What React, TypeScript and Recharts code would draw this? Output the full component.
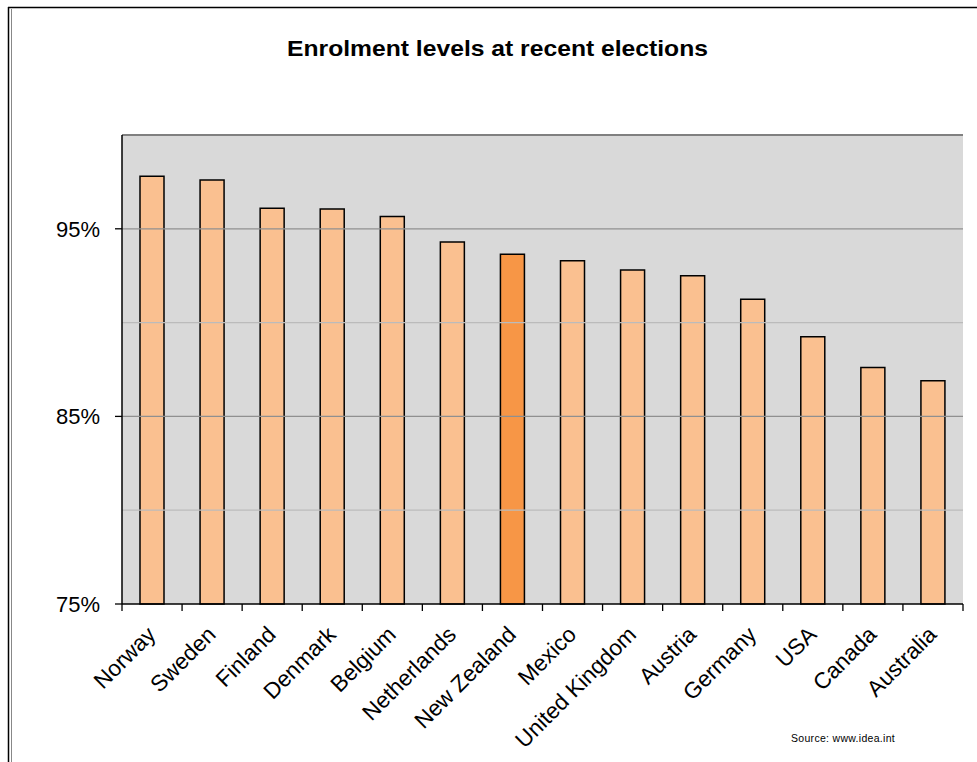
import React from "react"
import { BarChart, Bar, XAxis, YAxis, CartesianGrid, ReferenceLine, Cell } from "recharts"

const countries = [
  "Norway", "Sweden", "Finland", "Denmark", "Belgium", "Netherlands", "New Zealand",
  "Mexico", "United Kingdom", "Austria", "Germany", "USA", "Canada", "Australia",
]
const enrolment = [97.8, 97.6, 96.1, 96.05, 95.65, 94.3, 93.65, 93.3, 92.8, 92.5, 91.25, 89.25, 87.6, 86.9]
const highlighted = ["New Zealand"]

const yTicks = [75, 80, 85, 90, 95, 100]
const yLabelled = [75, 85, 95]
const majorLines = [85, 95]
const minorLines = [80, 90]

const W = 977
const H = 762
const LEFT = 122
const RIGHT = 14
const FONT = "'Liberation Sans', Arial, sans-serif"

const data = countries.map((name, i) => ({ name, value: enrolment[i] }))

const halfBand = (W - LEFT - RIGHT) / countries.length / 2

function YTick(props: any) {
  const { x, y, payload } = props
  if (!yLabelled.includes(payload.value)) return null
  return (
    <g>
      <line x1={LEFT - 7} x2={LEFT} y1={y} y2={y} stroke="#000" strokeWidth={1.3} />
      <text x={x - 14} y={y + 8} textAnchor="end" fontSize={22} fontFamily={FONT} fill="#000">
        {payload.value}%
      </text>
    </g>
  )
}

function XTick(props: any) {
  const { x, y, payload, index } = props
  const last = index === countries.length - 1
  return (
    <g>
      <line x1={x - halfBand} x2={x - halfBand} y1={y} y2={y + 7} stroke="#000" strokeWidth={1.3} />
      {last && <line x1={x + halfBand} x2={x + halfBand} y1={y} y2={y + 7} stroke="#000" strokeWidth={1.3} />}
      <text
        transform={`translate(${x + 5},${y + 32}) rotate(-45)`}
        textAnchor="end"
        fontSize={22.5}
        fontFamily={FONT}
        fill="#000"
      >
        {payload.value}
      </text>
    </g>
  )
}

export default function App() {
  return (
    <div style={{ position: "absolute", left: 0, top: 0, width: W, height: H, background: "#fff" }}>
      <BarChart width={W} height={H} data={data} margin={{ top: 135, right: RIGHT, left: 0, bottom: 0 }}>
        <CartesianGrid horizontal={false} vertical={false} fill="#D9D9D9" />
        {minorLines.map((v) => (
          <ReferenceLine key={v} y={v} stroke="#BBBBBB" strokeWidth={1.3} />
        ))}
        {majorLines.map((v) => (
          <ReferenceLine key={v} y={v} stroke="#909090" strokeWidth={1.3} />
        ))}
        <ReferenceLine y={100} stroke="#808080" strokeWidth={2} />
        <XAxis
          dataKey="name"
          interval={0}
          height={158}
          tickLine={false}
          tickSize={0}
          tickMargin={0}
          axisLine={{ stroke: "#000", strokeWidth: 1.5 }}
          tick={<XTick />}
        />
        <YAxis
          domain={[75, 100]}
          ticks={yTicks}
          width={LEFT}
          tickLine={false}
          axisLine={{ stroke: "#000", strokeWidth: 1.5 }}
          tick={<YTick />}
        />
        <YAxis
          yAxisId="frame"
          orientation="right"
          domain={[75, 100]}
          width={0}
          tick={false}
          tickLine={false}
          axisLine={{ stroke: "#808080", strokeWidth: 1.5 }}
        />
        <Bar dataKey="value" barSize={24} stroke="#000" strokeWidth={1.5} isAnimationActive={false}>
          {data.map((d) => (
            <Cell key={d.name} fill={highlighted.includes(d.name) ? "#F79646" : "#FAC090"} />
          ))}
        </Bar>
      </BarChart>
      <svg width={W} height={H} style={{ position: "absolute", left: 0, top: 0, pointerEvents: "none" }}>
        <line x1={8} x2={W} y1={7.5} y2={7.5} stroke="#000" strokeWidth={1.5} />
        <line x1={8.5} x2={8.5} y1={7} y2={H} stroke="#000" strokeWidth={1.5} />
        <line x1={11.5} x2={11.5} y1={9} y2={H} stroke="#888" strokeWidth={1} />
        <text
          x={497.5}
          y={56}
          textAnchor="middle"
          fontSize={22}
          fontWeight="bold"
          fontFamily={FONT}
          textLength={421}
          lengthAdjust="spacingAndGlyphs"
        >
          Enrolment levels at recent elections
        </text>
        <text x={791} y={742} fontSize={10.5} fontFamily={FONT} letterSpacing={0.3}>
          Source: www.idea.int
        </text>
      </svg>
    </div>
  )
}
